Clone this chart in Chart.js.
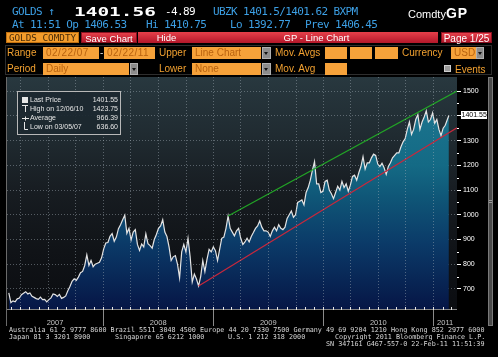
<!DOCTYPE html>
<html><head><meta charset="utf-8">
<script src="https://cdn.jsdelivr.net/npm/chart.js@4.4.1/dist/chart.umd.min.js"></script>
<style>
html,body{margin:0;padding:0;background:#000;width:498px;height:357px;overflow:hidden}
#wrap{position:relative;width:498px;height:357px;background:#000}
canvas{position:absolute;left:0;top:0}
.t{position:absolute;white-space:pre;line-height:1}
.m11{font-family:"DejaVu Sans Mono",monospace;font-size:11px;letter-spacing:-0.6px}
.blue{color:#3c9fe4}
.btn{position:absolute;box-sizing:border-box;text-align:center;font:9.5px "Liberation Sans",sans-serif;color:#fff;line-height:11px;height:11px;top:32px;background:linear-gradient(#e5404a,#b3172a);white-space:pre}
.lb{position:absolute;color:#f2a130;font:10px "Liberation Sans",sans-serif;line-height:12px;height:12px;white-space:pre}
.ib{position:absolute;box-sizing:border-box;background:#f6a23a;height:12px;color:#b8620f;font:10px "Liberation Sans",sans-serif;line-height:12px;padding-left:3px;white-space:pre}
.ar{position:absolute;box-sizing:border-box;background:#8c8c8c;border:1px solid #b0b0b0;height:12px}
.ar:after{content:"";position:absolute;left:50%;top:4px;margin-left:-2.5px;border-left:2.5px solid transparent;border-right:2.5px solid transparent;border-top:3px solid #111}
.ft{position:absolute;font-family:"DejaVu Sans Mono",monospace;font-size:6.75px;line-height:7px;color:#d8d8d8;white-space:pre}
</style></head>
<body><div id="wrap">
<canvas id="c" width="498" height="357"></canvas>

<div class="t m11 blue" style="left:12px;top:6px">GOLDS ↑</div>
<div class="t" style="left:74px;top:5px;font:bold 12px 'DejaVu Sans Mono',monospace;color:#fff;transform:scaleX(1.62);transform-origin:0 0">1401.56</div>
<div class="t m11" style="left:165px;top:6px;color:#fff">-4.89</div>
<div class="t m11 blue" style="left:213px;top:6px">UBZK 1401.5/1401.62 BXPM</div>
<div class="t" style="left:408px;top:5px;color:#fff;font:11px 'Liberation Sans',sans-serif">Comdty<b style="font:bold 14px 'Liberation Sans',sans-serif;letter-spacing:1px">GP</b></div>

<div class="t m11 blue" style="left:12px;top:19px">At 11:51 Op 1406.53</div>
<div class="t m11 blue" style="left:146px;top:19px">Hi 1410.75</div>
<div class="t m11 blue" style="left:230px;top:19px">Lo 1392.77</div>
<div class="t m11 blue" style="left:305px;top:19px">Prev 1406.45</div>

<div class="btn" style="left:6px;width:73px;background:#f39c2b;color:#4a2c08;border:1px solid #c07010;line-height:9px;font-family:'DejaVu Sans Mono',monospace;font-size:9.3px">GOLDS COMDTY</div>
<div class="btn" style="left:81px;width:56px;border:1px solid #8a1020">Save Chart</div>
<div class="btn" style="left:138px;width:57px">Hide</div>
<div class="btn" style="left:195px;width:243px">GP - Line Chart</div>
<div class="btn" style="left:441px;width:51px;border:1px solid #8a1020;font-size:10px">Page 1/25</div>

<div style="position:absolute;left:5px;top:45px;width:487px;height:30px;border:1px solid #2e2e2e;box-sizing:border-box"></div>

<div class="lb" style="left:7px;top:47px">Range</div>
<div class="ib" style="left:43px;top:47px;width:56px;letter-spacing:0.5px">02/22/07</div>
<div class="lb" style="left:100px;top:47px;color:#ddd">-</div>
<div class="ib" style="left:104px;top:47px;width:51px;letter-spacing:0.5px">02/22/11</div>
<div class="lb" style="left:159px;top:47px">Upper</div>
<div class="ib" style="left:192px;top:47px;width:69px">Line Chart</div>
<div class="ar" style="left:262px;top:47px;width:9px"></div>
<div class="lb" style="left:275px;top:47px">Mov. Avgs</div>
<div class="ib" style="left:325px;top:47px;width:22px"></div>
<div class="ib" style="left:350px;top:47px;width:22px"></div>
<div class="ib" style="left:375px;top:47px;width:23px"></div>
<div class="lb" style="left:402px;top:47px">Currency</div>
<div class="ib" style="left:451px;top:47px;width:25px">USD</div>
<div class="ar" style="left:476px;top:47px;width:8px"></div>

<div class="lb" style="left:7px;top:63px">Period</div>
<div class="ib" style="left:43px;top:63px;width:86px">Daily</div>
<div class="ar" style="left:130px;top:63px;width:8px"></div>
<div class="lb" style="left:159px;top:63px">Lower</div>
<div class="ib" style="left:192px;top:63px;width:69px">None</div>
<div class="ar" style="left:262px;top:63px;width:9px"></div>
<div class="lb" style="left:275px;top:63px">Mov. Avg</div>
<div class="ib" style="left:325px;top:63px;width:22px"></div>
<div style="position:absolute;left:444px;top:65px;width:7px;height:7px;background:#9a9a9a;border:1px solid #cfcfcf;box-sizing:border-box"></div>
<div class="lb" style="left:455px;top:64px">Events</div>

<div class="ft" style="left:9px;top:327px">Australia 61 2 9777 8600 Brazil 5511 3048 4500 Europe 44 20 7330 7500 Germany 49 69 9204 1210 Hong Kong 852 2977 6000</div>
<div class="ft" style="left:9px;top:334px">Japan 81 3 3201 8900</div>
<div class="ft" style="left:115px;top:334px">Singapore 65 6212 1000</div>
<div class="ft" style="left:228px;top:334px">U.S. 1 212 318 2000</div>
<div class="ft" style="left:335px;top:334px">Copyright 2011 Bloomberg Finance L.P.</div>
<div class="ft" style="left:326px;top:341px">SN 347161 G467-557-0 22-Feb-11 11:51:39</div>
</div>

<script>
// ---------------- data ----------------
const startDate = '2007-02-22';           // first weekly observation
const axisStartDate = '2007-02-16';
const axisEndDate = '2011-03-21';
// weekly gold prices (USD/oz), one value per week from the start date
const prices2007 = [684,645,652,648,660,663,677,683,689,680,684,670,666,661,658,667,657,658,648,657,664,680,677,670,678,662,666,672,693,710,731,741,735,748,766,771,795,838,795,815,790,800,804,808,826];
const prices2008 = [862,886,888,913,924,893,910,944,960,980,998,925,945,898,930,940,880,856,882,870,923,883,875,865,900,920,945,955,980,930,912,870,815,830,835,800,745,850,880,850,905,830,728,760,740,712,750,815,770,820,860,850];
const prices2009 = [870,855,815,860,905,910,945,995,945,930,915,935,945,905,880,890,905,890,912,928,945,955,975,950,935,935,930,912,935,950,935,960,945,940,950,985,1000,1015,990,1000,1050,1055,1060,1040,1090,1110,1140,1180,1215,1125,1125,1090,1095];
const prices2010 = [1135,1140,1100,1085,1065,1090,1115,1100,1135,1110,1125,1095,1120,1155,1160,1140,1170,1195,1235,1185,1210,1210,1230,1245,1240,1205,1195,1208,1190,1163,1195,1210,1230,1240,1250,1250,1275,1295,1308,1345,1375,1325,1345,1385,1405,1345,1375,1395,1420,1375,1385,1412];
const prices2011 = [1370,1385,1345,1320,1350,1362,1385];
const lastDate = '2011-02-22';
const lastPrice = 1401.55;

const yearLabels = ['2007','2008','2009','2010','2011'];
const yearStartDates = ['2008-01-01','2009-01-01','2010-01-01','2011-01-01'];
const yTickValues = [700,800,900,1000,1100,1200,1300,1400,1500];
const yMinorValues = [750,850,950,1050,1150,1250,1350,1450];
const yRange = [619,1557];

const greenTrendDates = ['2009-02-19','2011-03-21'];
const greenTrendValues = [995,1500];
const redTrendDates = ['2008-11-13','2011-03-21'];
const redTrendValues = [712,1352];

const statLabels = ['Last Price','High on 12/06/10','Average','Low on 03/05/07'];
const statValues = ['1401.55','1423.75','966.39','636.60'];

// ---------------- helpers ----------------
const DAY = 86400000;
const dayOf = s => (Date.parse(s) - Date.parse(startDate)) / DAY;
const xMin = dayOf(axisStartDate), xMax = dayOf(axisEndDate);
const weekly = [].concat(prices2007, prices2008, prices2009, prices2010, prices2011);
const priceData = weekly.map((v, i) => ({x: i * 7, y: v}));
priceData.push({x: dayOf(lastDate), y: lastPrice});
const toPts = (ds, vs) => ds.map((d, i) => ({x: dayOf(d), y: vs[i]}));

const yearStarts = yearStartDates.map(dayOf);
const bounds = [xMin, ...yearStarts, xMax];
const yearMids = yearLabels.map((_, i) => (bounds[i] + bounds[i + 1]) / 2);

const quarterDays = [], monthDays = [];
for (let y = 2007; y <= 2011; y++) {
  for (let m = 1; m <= 12; m++) {
    const d = dayOf(`${y}-${String(m).padStart(2, '0')}-01`);
    if (d <= xMin || d >= xMax) continue;
    monthDays.push(d);
    if ((m - 1) % 3 === 0) quarterDays.push(d);
  }
}

const deco = {
  id: 'deco',
  beforeDraw(chart) {
    const {ctx, chartArea: a} = chart;
    ctx.save();
    ctx.fillStyle = '#000';
    ctx.fillRect(0, 0, chart.width, chart.height);
    const g = ctx.createLinearGradient(0, a.top, 0, a.bottom);
    g.addColorStop(0, '#28383f');
    g.addColorStop(0.25, '#202b31');
    g.addColorStop(0.5, '#171c21');
    g.addColorStop(0.75, '#101317');
    g.addColorStop(1, '#0b0d11');
    ctx.fillStyle = g;
    ctx.fillRect(a.left, a.top, a.right - a.left, a.bottom - a.top);
    ctx.restore();
  },
  afterDatasetsDraw(chart) {
    const {ctx, chartArea: a, scales: {x}} = chart;
    ctx.save();
    ctx.strokeStyle = 'rgba(165,175,185,0.45)';
    ctx.lineWidth = 1;
    ctx.setLineDash([1, 2]);
    quarterDays.forEach(d => {
      const px = Math.round(x.getPixelForValue(d)) + 0.5;
      ctx.beginPath(); ctx.moveTo(px, a.top); ctx.lineTo(px, a.bottom); ctx.stroke();
    });
    ctx.restore();
  },
  afterDraw(chart) {
    const {ctx, chartArea: a, scales: {x, y}} = chart;
    ctx.save();
    // left frame line
    ctx.strokeStyle = '#6a6a6a';
    ctx.beginPath(); ctx.moveTo(6.5, a.top); ctx.lineTo(6.5, 326); ctx.stroke();
    // year separators under axis
    ctx.strokeStyle = '#8a8a8a';
    yearStarts.forEach(d => {
      const px = Math.round(x.getPixelForValue(d)) + 0.5;
      ctx.beginPath(); ctx.moveTo(px, a.bottom + 1); ctx.lineTo(px, 326); ctx.stroke();
    });
    // monthly tick marks
    ctx.fillStyle = '#e8e8e8';
    monthDays.forEach(d => {
      const px = Math.round(x.getPixelForValue(d));
      ctx.fillRect(px, a.bottom - 2, 1, 3);
    });
    ctx.fillStyle = 'rgba(220,220,220,0.6)';
    ctx.fillRect(a.left, a.bottom, a.right - a.left, 1);
    // minor y ticks
    ctx.fillStyle = '#ffffff';
    yMinorValues.forEach(v => {
      const py = Math.round(y.getPixelForValue(v));
      ctx.fillRect(a.right, py, 2, 1);
    });
    // last price marker
    const ly = Math.round(y.getPixelForValue(lastPrice));
    ctx.fillRect(a.right, ly, 4, 1);
    ctx.fillRect(461, ly - 4, 26, 8);
    ctx.fillStyle = '#000';
    ctx.font = '7px "Liberation Sans", sans-serif';
    ctx.textBaseline = 'middle';
    ctx.textAlign = 'left';
    ctx.fillText(statValues[0], 461.5, ly + 0.5);
    // legend box
    ctx.fillStyle = 'rgba(28,40,47,0.93)';
    ctx.fillRect(17, 91, 103, 43);
    ctx.strokeStyle = '#b8b8b8';
    ctx.strokeRect(17.5, 91.5, 103, 43);
    ctx.fillStyle = '#e6e6e6';
    ctx.strokeStyle = '#e6e6e6';
    ctx.font = '7px "Liberation Sans", sans-serif';
    statLabels.forEach((lab, i) => {
      const cy = 100 + i * 9;
      ctx.textAlign = 'left';
      ctx.fillText(lab, 30, cy);
      ctx.textAlign = 'right';
      ctx.fillText(statValues[i], 118, cy);
    });
    // icons
    ctx.fillRect(22, 97, 6, 6);
    ctx.beginPath();
    ctx.moveTo(22, 105.5); ctx.lineTo(28, 105.5);
    ctx.moveTo(25.5, 105.5); ctx.lineTo(25.5, 112);
    ctx.moveTo(22, 118.5); ctx.lineTo(29, 118.5);
    ctx.moveTo(25.5, 116.5); ctx.lineTo(25.5, 120.5);
    ctx.moveTo(24.5, 122); ctx.lineTo(24.5, 129.5); ctx.lineTo(28, 129.5);
    ctx.stroke();
    // scrollbar
    ctx.fillStyle = '#4b4b4b';
    ctx.fillRect(488, 77, 5, 249);
    ctx.strokeStyle = '#7a7a7a';
    ctx.strokeRect(488.5, 77.5, 4, 248);
    ctx.fillStyle = '#9a9a9a';
    ctx.fillRect(489, 200, 3, 1);
    ctx.fillRect(489, 202, 3, 1);
    ctx.restore();
  }
};

new Chart(document.getElementById('c'), {
  type: 'line',
  data: {
    datasets: [
      {
        order: 1,
        data: priceData,
        borderColor: '#e4e4e4',
        borderWidth: 1.2,
        pointRadius: 0,
        tension: 0,
        fill: 'start',
        backgroundColor(c) {
          const a = c.chart.chartArea;
          if (!a) return 'rgba(0,0,0,0)';
          const g = c.chart.ctx.createLinearGradient(0, a.top, 0, a.bottom);
          g.addColorStop(0, '#1f7a93');
          g.addColorStop(0.38, '#146a85');
          g.addColorStop(0.52, '#0f5677');
          g.addColorStop(0.72, '#0b3a68');
          g.addColorStop(1, '#061646');
          return g;
        }
      },
      {order: 0, data: toPts(greenTrendDates, greenTrendValues), borderColor: '#22a526', borderWidth: 1.2, pointRadius: 0, fill: false},
      {order: 0, data: toPts(redTrendDates, redTrendValues), borderColor: '#c8283c', borderWidth: 1.2, pointRadius: 0, fill: false}
    ]
  },
  options: {
    responsive: false,
    animation: false,
    devicePixelRatio: 1,
    layout: {padding: {left: 7, top: 77, right: 0, bottom: 0}},
    plugins: {legend: {display: false}, tooltip: {enabled: false}},
    scales: {
      x: {
        type: 'linear', min: xMin, max: xMax, position: 'bottom',
        grid: {display: false, drawTicks: false}, border: {display: false},
        afterBuildTicks(s) { s.ticks = yearMids.map(v => ({value: v})); },
        afterFit(s) { s.height = 48; },
        ticks: {
          autoSkip: false, maxRotation: 0, color: '#c4c4c4', padding: 9,
          font: {family: 'Liberation Sans', size: 7.5},
          callback: (v, i) => yearLabels[i]
        }
      },
      y: {
        type: 'linear', position: 'right', min: yRange[0], max: yRange[1], z: 1,
        afterBuildTicks(s) { s.ticks = yTickValues.map(v => ({value: v})); },
        afterFit(s) { s.width = 41; },
        grid: {color: 'rgba(165,175,185,0.45)', tickColor: '#ffffff', tickLength: 4, tickWidth: 1, tickBorderDash: []},
        border: {display: false, dash: [1, 2]},
        ticks: {
          color: '#ffffff', padding: 2,
          font: {family: 'Liberation Sans', size: 7},
          callback: v => (v === 1400 ? '' : String(v))
        }
      }
    }
  },
  plugins: [deco]
});
</script>
</body></html>
